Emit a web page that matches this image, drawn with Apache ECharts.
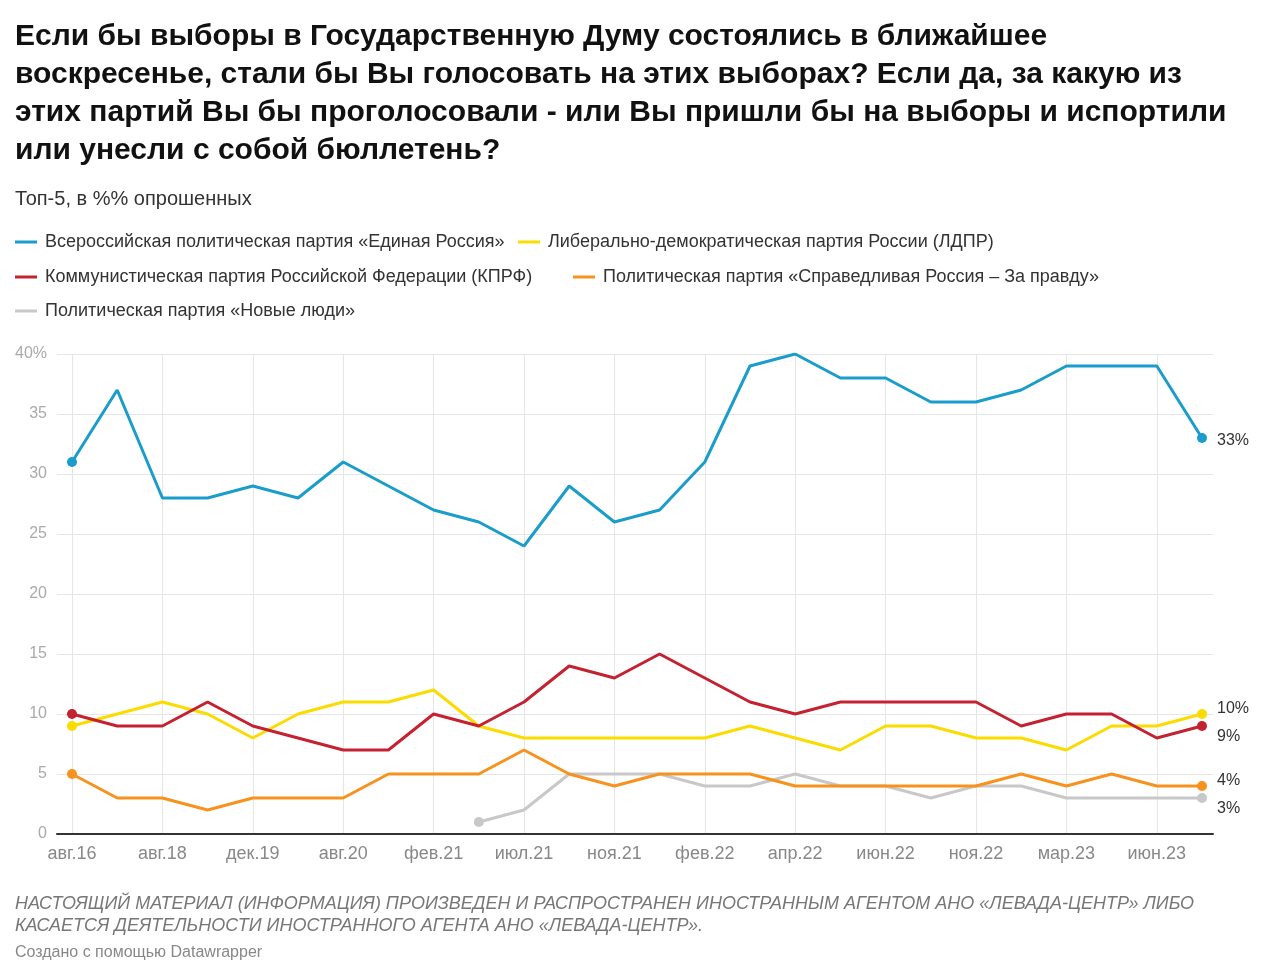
<!DOCTYPE html>
<html><head><meta charset="utf-8">
<script src="https://cdn.jsdelivr.net/npm/echarts@6/dist/echarts.min.js"></script>
<style>html,body{margin:0;padding:0;background:#fff}#c{width:1280px;height:978px}</style>
</head><body><div id="c"></div>
<script>
const titleText = 'Если бы выборы в Государственную Думу состоялись в ближайшее\nвоскресенье, стали бы Вы голосовать на этих выборах? Если да, за какую из\nэтих партий Вы бы проголосовали - или Вы пришли бы на выборы и испортили\nили унесли с собой бюллетень?';
const subtitleText = 'Топ-5, в %% опрошенных';
const footerText = 'НАСТОЯЩИЙ МАТЕРИАЛ (ИНФОРМАЦИЯ) ПРОИЗВЕДЕН И РАСПРОСТРАНЕН ИНОСТРАННЫМ АГЕНТОМ АНО «ЛЕВАДА-ЦЕНТР» ЛИБО\nКАСАЕТСЯ ДЕЯТЕЛЬНОСТИ ИНОСТРАННОГО АГЕНТА АНО «ЛЕВАДА-ЦЕНТР».';
const creditText = 'Создано с помощью Datawrapper';

const categories = ['авг.16','авг.17','авг.18','мар.19','дек.19','мар.20','авг.20','ноя.20','фев.21','май.21','июл.21','сен.21','ноя.21','дек.21','фев.22','мар.22','апр.22','май.22','июн.22','сен.22','ноя.22','янв.23','мар.23','май.23','июн.23','сен.23'];

const nameER = 'Всероссийская политическая партия «Единая Россия»';
const nameLDPR = 'Либерально-демократическая партия России (ЛДПР)';
const nameKPRF = 'Коммунистическая партия Российской Федерации (КПРФ)';
const nameSR = 'Политическая партия «Справедливая Россия – За правду»';
const nameNL = 'Политическая партия «Новые люди»';

const valuesER   = [31,37,28,28,29,28,31,29,27,26,24,29,26,27,31,39,40,38,38,36,36,37,39,39,39,33];
const valuesLDPR = [9,10,11,10,8,10,11,11,12,9,8,8,8,8,8,9,8,7,9,9,8,8,7,9,9,10];
const valuesKPRF = [10,9,9,11,9,8,7,7,10,9,11,14,13,15,13,11,10,11,11,11,11,9,10,10,8,9];
const valuesSR   = [5,3,3,2,3,3,3,5,5,5,7,5,4,5,5,5,4,4,4,4,4,5,4,5,4,4];
const valuesNL   = [null,null,null,null,null,null,null,null,null,1,2,5,5,5,4,4,5,4,4,3,4,4,3,3,3,3];

const yTicks = [0,5,10,15,20,25,30,35,40];

const colors = {ER:'#1b9dcb', LDPR:'#fadc00', KPRF:'#c42230', SR:'#f7921e', NL:'#c8c8c8'};
const FONT = '"Liberation Sans", Arial, sans-serif';

function endSymbol(vals){
  let first = vals.findIndex(v => v !== null);
  let last = vals.length - 1;
  return function(v, p){ return (p.dataIndex === first || p.dataIndex === last) ? 10 : 0; };
}

function mkSeries(name, vals, color, dy){
  return {
    name: name, type: 'line', data: vals, xAxisIndex: 0, yAxisIndex: 0,
    color: color,
    lineStyle: {width: 3, color: color},
    itemStyle: {color: color},
    symbol: 'circle', showSymbol: true, showAllSymbol: true,
    symbolSize: endSymbol(vals),
    emphasis: {disabled: true},
    connectNulls: false,
    animation: false,
    endLabel: {show: true, formatter: p => p.value + '%', color: '#333', fontSize: 16, fontFamily: FONT, offset: [7, dy]}
  };
}

const chart = echarts.init(document.getElementById('c'), null, {renderer: 'canvas'});
const legendCommon = {
  icon: 'rect', itemWidth: 22, itemHeight: 3, itemGap: 20,
  textStyle: {fontSize: 18, color: '#333', fontFamily: FONT, padding: [0,0,0,3]},
  selectedMode: false, padding: 0
};
chart.setOption({
  backgroundColor: '#fff',
  animation: false,
  title: [
    {text: titleText, left: 15, top: 18, padding: 0, textStyle: {fontSize: 30, fontWeight: 'bold', color: '#111', fontFamily: FONT, lineHeight: 38}},
    {text: subtitleText, left: 15, top: 189, padding: 0, textStyle: {fontSize: 20, fontWeight: 'normal', color: '#333', fontFamily: FONT}},
    {text: footerText, left: 15, top: 893, padding: 0, textStyle: {fontSize: 18, fontStyle: 'italic', fontWeight: 'normal', color: '#777', fontFamily: FONT, lineHeight: 22}},
    {text: creditText, left: 15, top: 945, padding: 0, textStyle: {fontSize: 16, fontWeight: 'normal', color: '#888', fontFamily: FONT}}
  ],
  legend: [
    Object.assign({left: 15, top: 233, data: [nameER]}, legendCommon),
    Object.assign({left: 518, top: 233, data: [nameLDPR]}, legendCommon),
    Object.assign({left: 15, top: 268, data: [nameKPRF]}, legendCommon),
    Object.assign({left: 573, top: 268, data: [nameSR]}, legendCommon),
    Object.assign({left: 15, top: 302, data: [nameNL]}, legendCommon)
  ],
  grid: [
    {left: 72, right: 78, top: 354, bottom: 144},
    {left: 57, right: 67, top: 354, bottom: 144}
  ],
  xAxis: [
    {type: 'category', gridIndex: 0, data: categories, boundaryGap: false,
     axisLine: {show: false}, axisTick: {show: false},
     axisLabel: {interval: 1, color: '#888', fontSize: 18, fontFamily: FONT, margin: 11},
     splitLine: {show: true, interval: 1, lineStyle: {color: '#e6e6e6', width: 1}}},
    {type: 'value', gridIndex: 1, min: 0, max: 1, show: true,
     axisLine: {show: true, onZero: false, lineStyle: {color: '#333', width: 2}},
     axisTick: {show: false}, axisLabel: {show: false}, splitLine: {show: false}}
  ],
  yAxis: [
    {type: 'value', gridIndex: 0, min: 0, max: 40, interval: 5, show: false, splitLine: {show: false}},
    {type: 'value', gridIndex: 1, min: yTicks[0], max: yTicks[yTicks.length-1], interval: 5,
     axisLine: {show: false}, axisTick: {show: false},
     axisLabel: {color: '#aaa', fontSize: 16, fontFamily: FONT, margin: 10,
       formatter: v => v === yTicks[yTicks.length-1] ? v + '%' : String(v)},
     splitLine: {show: true, lineStyle: {color: '#e6e6e6', width: 1}}}
  ],
  series: [
    mkSeries(nameNL, valuesNL, colors.NL, 11),
    mkSeries(nameSR, valuesSR, colors.SR, -5),
    mkSeries(nameLDPR, valuesLDPR, colors.LDPR, -5),
    mkSeries(nameKPRF, valuesKPRF, colors.KPRF, 11),
    mkSeries(nameER, valuesER, colors.ER, 3)
  ]
});
</script></body></html>
